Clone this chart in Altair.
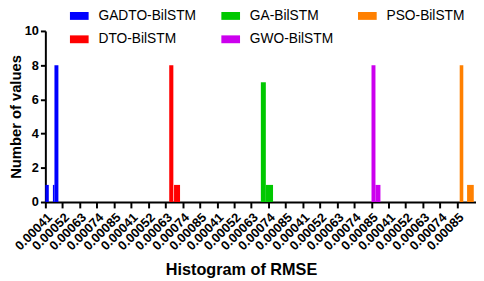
import json
import altair as alt
import pandas as pd

# ---- data ----
tick_labels = ["0.00041", "0.00052", "0.00063", "0.00074", "0.00085"] * 5
tick_positions = list(range(len(tick_labels)))

series = ["GADTO-BilSTM", "GADTO-BilSTM", "GADTO-BilSTM",
          "DTO-BilSTM", "DTO-BilSTM",
          "GA-BilSTM", "GA-BilSTM",
          "GWO-BilSTM", "GWO-BilSTM",
          "PSO-BilSTM", "PSO-BilSTM"]
bin_start = [0.00, 0.44, 0.53, 7.22, 7.50, 12.56, 12.85, 19.01, 19.24, 24.15, 24.58]
bin_end = [0.20, 0.53, 0.76, 7.46, 7.85, 12.85, 13.27, 19.24, 19.53, 24.36, 24.97]
counts = [1, 1, 8, 8, 1, 7, 1, 8, 1, 8, 1]

legend_order = ["GADTO-BilSTM", "DTO-BilSTM", "GA-BilSTM", "GWO-BilSTM", "PSO-BilSTM"]
legend_colors = ["#0000FF", "#FF0000", "#00C800", "#CC00EE", "#FF8000"]

df = pd.DataFrame({"series": series, "start": bin_start, "end": bin_end, "count": counts})

FONT = "Liberation Sans"
label_expr = json.dumps(tick_labels) + "[datum.value]"

chart = alt.Chart(df).mark_rect().encode(
    x=alt.X("start:Q",
            scale=alt.Scale(domain=[0, 25.1], nice=False, zero=False),
            axis=alt.Axis(values=tick_positions, labelExpr=label_expr,
                          title="Histogram of RMSE", labelAngle=-45,
                          labelOverlap=False, labelFlush=False,
                          labelPadding=3, tickSize=6, tickWidth=2, tickColor="black",
                          domainColor="black", domainWidth=2, grid=False,
                          labelFont=FONT, labelFontSize=13, labelFontWeight="bold",
                          labelColor="black", titleFont=FONT, titleFontSize=16.5,
                          titleFontWeight="bold", titleColor="black",
                          titleX=199, titleY=74, titleBaseline="alphabetic")),
    x2="end:Q",
    y=alt.Y("count:Q",
            scale=alt.Scale(domain=[0, 10], nice=False),
            axis=alt.Axis(values=[0, 2, 4, 6, 8, 10], title="Number of values",
                          tickSize=5, tickWidth=2, tickColor="black",
                          domainColor="black", domainWidth=2, grid=False,
                          labelFont=FONT, labelFontSize=13, labelFontWeight="bold",
                          labelColor="black", labelPadding=2,
                          titleFont=FONT, titleFontSize=15, titleFontWeight="bold",
                          titleColor="black", titlePadding=1)),
    y2=alt.datum(0),
    color=alt.Color("series:N",
                    scale=alt.Scale(domain=legend_order, range=legend_colors),
                    title=None,
                    legend=alt.Legend(orient="none", legendX=25, legendY=-25,
                                      columns=3, columnPadding=25, rowPadding=7,
                                      symbolType="M-1,-0.42H1V0.42H-1Z",
                                      symbolSize=361, symbolStrokeWidth=0,
                                      symbolOpacity=1, labelOffset=10,
                                      labelFont=FONT, labelFontSize=14,
                                      labelColor="black", padding=0)),
).properties(
    width=438,
    height=174,
    padding={"left": 38, "top": 21, "right": 0, "bottom": 78},
    autosize=alt.AutoSizeParams(type="none"),
).configure_view(stroke=None)

chart.save("out.html", embed_options={"renderer": "svg", "actions": False})
